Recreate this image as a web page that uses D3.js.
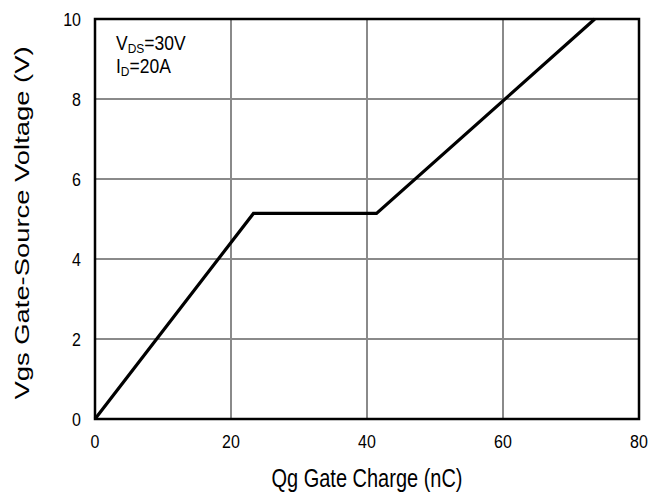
<!DOCTYPE html>
<html>
<head>
<meta charset="utf-8">
<script src="https://cdn.jsdelivr.net/npm/d3@7"></script>
<style>
  body { margin: 0; background: #fff; }
  text { font-family: Arial, "Liberation Sans", sans-serif; fill: #000; }
</style>
</head>
<body>
<svg id="here"></svg>
<script>
// gate charge curve
const qg = [0, 23.3, 41.4, 73.5];
const vgs = [0, 5.14, 5.14, 10];
const xTicks = [0, 20, 40, 60, 80];
const yTicks = [0, 2, 4, 6, 8, 10];
const notes = [["V", "DS", "=30V"], ["I", "D", "=20A"]];

const width = 664, height = 499;
const margin = {top: 19, right: 25, bottom: 80, left: 95};

const svg = d3.select("#here")
  .attr("width", width)
  .attr("height", height);

const x = d3.scaleLinear()
  .domain([0, 80])
  .range([margin.left, width - margin.right]);
const y = d3.scaleLinear()
  .domain([0, 10])
  .range([height - margin.bottom, margin.top]);

// grid
svg.append("g")
  .selectAll("line")
  .data(xTicks.slice(1, -1))
  .join("line")
  .attr("x1", d => x(d)).attr("x2", d => x(d))
  .attr("y1", y(0)).attr("y2", y(10))
  .attr("stroke", "#8a8a8a").attr("stroke-width", 2);
svg.append("g")
  .selectAll("line")
  .data(yTicks.slice(1, -1))
  .join("line")
  .attr("y1", d => y(d)).attr("y2", d => y(d))
  .attr("x1", x(0)).attr("x2", x(80))
  .attr("stroke", "#8a8a8a").attr("stroke-width", 2);

// frame
svg.append("rect")
  .attr("x", x(0)).attr("y", y(10))
  .attr("width", x(80) - x(0)).attr("height", y(0) - y(10))
  .attr("fill", "none").attr("stroke", "#000").attr("stroke-width", 2.5);

// the picture's text is a bit taller than wide, so stretch it
const tall = 1.14;

// tick labels
svg.append("g")
  .selectAll("text")
  .data(xTicks)
  .join("text")
  .attr("transform", d => `translate(${x(d)},${y(0) + 29}) scale(1,${tall})`)
  .attr("text-anchor", "middle")
  .attr("font-size", 16)
  .text(d => d);
svg.append("g")
  .selectAll("text")
  .data(yTicks)
  .join("text")
  .attr("transform", d => `translate(${x(0) - 14},${y(d)}) scale(1,${tall})`)
  .attr("text-anchor", "end")
  .attr("dy", "0.36em")
  .attr("font-size", 16)
  .text(d => d);

// curve
const line = d3.line()
  .x(d => x(d[0]))
  .y(d => y(d[1]));
svg.append("path")
  .datum(d3.zip(qg, vgs))
  .attr("fill", "none")
  .attr("stroke", "#000")
  .attr("stroke-width", 3.2)
  .attr("stroke-linejoin", "miter")
  .attr("d", line);

// conditions
notes.forEach((n, i) => {
  const t = svg.append("text")
    .attr("transform", `translate(116,${50 + i * 23}) scale(1,1.12)`)
    .attr("font-size", 17.5);
  t.append("tspan").text(n[0]);
  t.append("tspan").attr("dy", 3).attr("font-size", 12).text(n[1]);
  t.append("tspan").attr("dy", -3).text(n[2]);
});

// axis titles
svg.append("text")
  .attr("transform", `translate(${(x(0) + x(80)) / 2},487) scale(1,1.26)`)
  .attr("text-anchor", "middle")
  .attr("font-size", 20)
  .text("Qg Gate Charge (nC)");
svg.append("text")
  .attr("transform", `translate(29,223) rotate(-90) scale(1.37,1)`)
  .attr("text-anchor", "middle")
  .attr("font-size", 20)
  .text("Vgs Gate-Source Voltage (V)");
</script>
</body>
</html>
